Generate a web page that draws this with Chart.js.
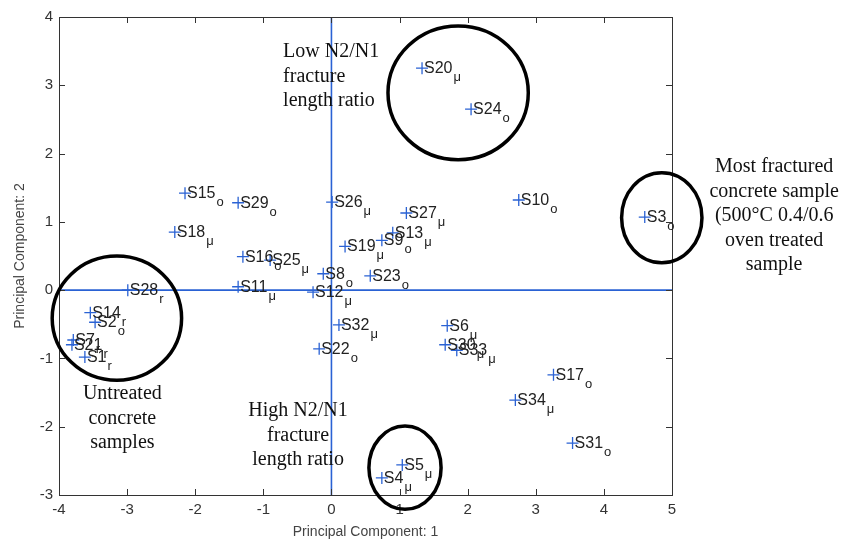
<!DOCTYPE html>
<html>
<head>
<meta charset="utf-8">
<script src="https://cdn.jsdelivr.net/npm/chart.js@4.4.0/dist/chart.umd.min.js"></script>
<style>
  body { margin: 0; background: #fff; }
  canvas { display: block; }
</style>
</head>
<body>
<canvas id="pcaChart" width="842" height="545"></canvas>

<script>
    // sample names, subscripts and principal component scores
    const names = ['S20','S24','S10','S3','S15','S29','S26','S27','S18','S19','S9','S13','S16','S25','S8','S23',
                   'S11','S12','S28','S14','S2','S7','S21','S1','S32','S22','S6','S30','S33','S17','S34','S31','S5','S4'];
    const subs  = ['μ','o','o','o','o','o','μ','μ','μ','μ','o','μ','o','μ','o','o',
                   'μ','μ','r','r','o','r','r','r','μ','o','μ','μ','μ','o','μ','o','μ','μ'];
    const pc1 = [1.33, 2.05, 2.75, 4.60, -2.15, -1.37, 0.01, 1.10, -2.30, 0.20, 0.74, 0.90, -1.30, -0.90, -0.12, 0.57,
                 -1.37, -0.27, -2.99, -3.54, -3.47, -3.79, -3.81, -3.62, 0.11, -0.18, 1.70, 1.67, 1.84, 3.26, 2.70, 3.54, 1.04, 0.74];
    const pc2 = [3.25, 2.65, 1.32, 1.07, 1.42, 1.28, 1.29, 1.13, 0.85, 0.64, 0.73, 0.84, 0.49, 0.44, 0.24, 0.21,
                 0.05, -0.03, 0.00, -0.33, -0.47, -0.73, -0.80, -0.98, -0.51, -0.86, -0.52, -0.80, -0.88, -1.24, -1.61, -2.24, -2.56, -2.75];

    // highlighted groups: centre and radii in data units
    const ringX  = [1.86, 4.85, -3.15, 1.08];
    const ringY  = [2.89, 1.06, -0.41, -2.60];
    const ringRx = [1.03, 0.59, 0.95, 0.53];
    const ringRy = [0.98, 0.66, 0.91, 0.61];

    // notes next to the groups
    const noteLines = [
        ['Low N2/N1', 'fracture', 'length ratio'],
        ['Most fractured', 'concrete sample', '(500°C 0.4/0.6', 'oven treated', 'sample'],
        ['Untreated', 'concrete', 'samples'],
        ['High N2/N1', 'fracture', 'length ratio']
    ];
    const noteX = [-0.71, 6.50, -3.07, -0.49];
    const noteY = [3.49, 1.80, -1.52, -1.77];
    const noteAlign = ['left', 'center', 'center', 'center'];

    const blue = '#2a62d4';
    const sans = '"Liberation Sans", Arial, sans-serif';

    const pcaDecor = {
        id: 'pcaDecor',
        beforeDatasetsDraw(chart) {
            const { ctx, chartArea: a, scales: { x, y } } = chart;
            ctx.save();
            // zero lines
            ctx.strokeStyle = blue;
            ctx.lineWidth = 1.6;
            ctx.beginPath();
            ctx.moveTo(x.getPixelForValue(0), a.top);
            ctx.lineTo(x.getPixelForValue(0), a.bottom);
            ctx.moveTo(a.left, y.getPixelForValue(0));
            ctx.lineTo(a.right, y.getPixelForValue(0));
            ctx.stroke();
            // box and inward ticks
            ctx.strokeStyle = '#333';
            ctx.lineWidth = 1;
            ctx.strokeRect(a.left + 0.5, a.top + 0.5, a.right - a.left, a.bottom - a.top);
            ctx.beginPath();
            x.ticks.forEach(t => {
                const px = Math.round(x.getPixelForValue(t.value)) + 0.5;
                ctx.moveTo(px, a.bottom); ctx.lineTo(px, a.bottom - 6);
                ctx.moveTo(px, a.top); ctx.lineTo(px, a.top + 6);
            });
            y.ticks.forEach(t => {
                const py = Math.round(y.getPixelForValue(t.value)) + 0.5;
                ctx.moveTo(a.left, py); ctx.lineTo(a.left + 6, py);
                ctx.moveTo(a.right, py); ctx.lineTo(a.right - 6, py);
            });
            ctx.stroke();
            ctx.restore();
        },
        afterDraw(chart) {
            const { ctx, scales: { x, y } } = chart;
            ctx.save();
            // point labels with subscripts
            ctx.fillStyle = '#222';
            ctx.textBaseline = 'alphabetic';
            ctx.textAlign = 'left';
            names.forEach((n, i) => {
                const px = x.getPixelForValue(pc1[i]) + 2;
                const py = y.getPixelForValue(pc2[i]) + 5;
                ctx.font = '16px ' + sans;
                ctx.fillText(n, px, py);
                const w = ctx.measureText(n).width;
                ctx.font = '13px ' + sans;
                ctx.fillText(subs[i], px + w + 1, py + 8);
            });
            // rings
            ctx.strokeStyle = '#000';
            ctx.lineWidth = 3.5;
            ringX.forEach((cx, i) => {
                const px = x.getPixelForValue(cx);
                const py = y.getPixelForValue(ringY[i]);
                const rx = Math.abs(x.getPixelForValue(cx + ringRx[i]) - px);
                const ry = Math.abs(y.getPixelForValue(ringY[i] + ringRy[i]) - py);
                ctx.beginPath();
                ctx.ellipse(px, py, rx, ry, 0, 0, Math.PI * 2);
                ctx.stroke();
            });
            // notes
            ctx.fillStyle = '#111';
            ctx.font = '20px "Liberation Serif", "Times New Roman", serif';
            ctx.textBaseline = 'middle';
            noteLines.forEach((lines, i) => {
                ctx.textAlign = noteAlign[i];
                const px = x.getPixelForValue(noteX[i]);
                const py = y.getPixelForValue(noteY[i]);
                lines.forEach((l, k) => ctx.fillText(l, px, py + k * 24.5));
            });
            ctx.restore();
        }
    };

    const ctx = document.getElementById('pcaChart').getContext('2d');
    const chart = new Chart(ctx, {
        type: 'scatter',
        data: {
            datasets: [{
                label: 'Samples',
                data: pc1.map((v, i) => ({ x: v, y: pc2[i] })),
                pointStyle: 'cross',
                pointRadius: 6,
                borderColor: blue,
                borderWidth: 1.3,
                backgroundColor: blue
            }]
        },
        options: {
            responsive: false,
            animation: false,
            layout: { padding: { left: 8, top: 17, right: 170, bottom: 0 } },
            plugins: { legend: { display: false }, tooltip: { enabled: false } },
            scales: {
                x: {
                    type: 'linear',
                    min: -4,
                    max: 5,
                    grid: { display: false, drawTicks: false },
                    border: { display: false },
                    ticks: { stepSize: 1, padding: 6, color: '#333', font: { size: 15, family: sans } },
                    title: { display: true, text: 'Principal Component: 1', color: '#444', font: { size: 14, family: sans } },
                    afterFit: s => { s.height = 50; }
                },
                y: {
                    type: 'linear',
                    min: -3,
                    max: 4,
                    grid: { display: false, drawTicks: false },
                    border: { display: false },
                    ticks: { stepSize: 1, padding: 6, color: '#333', font: { size: 15, family: sans } },
                    title: { display: true, text: 'Principal Component: 2', color: '#444', font: { size: 14, family: sans } },
                    afterFit: s => { s.width = 51; }
                }
            }
        },
        plugins: [pcaDecor]
    });
</script>
</body>
</html>
